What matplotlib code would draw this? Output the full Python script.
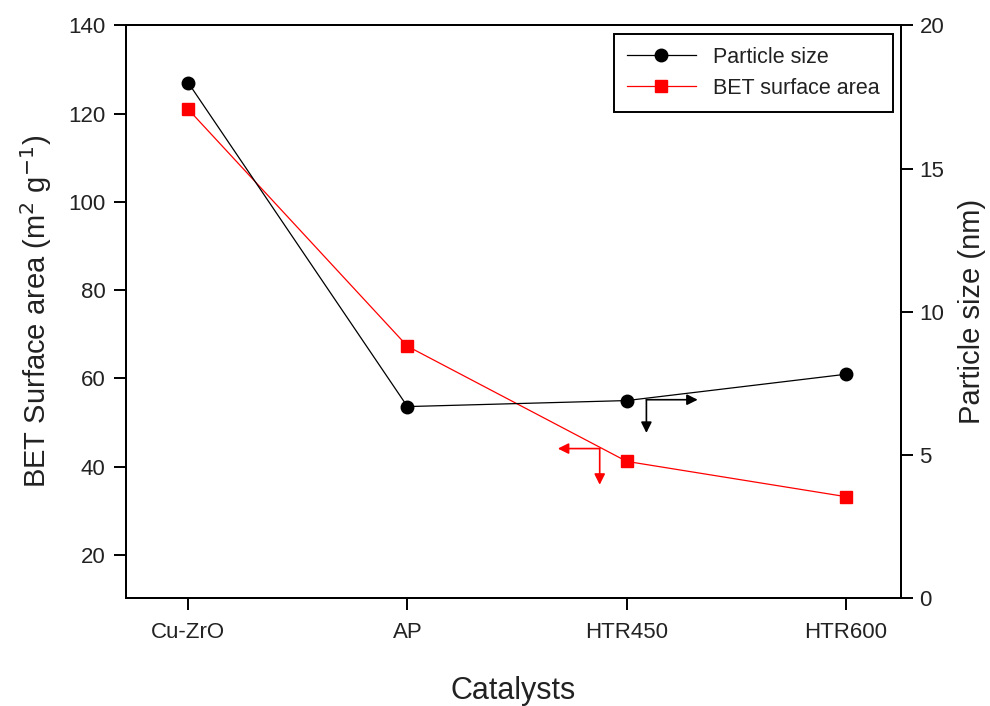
import matplotlib
matplotlib.use("Agg")
import matplotlib.pyplot as plt

plt.rcParams['font.family'] = ['Liberation Sans', 'DejaVu Sans']

catalysts = ["Cu-ZrO", "AP", "HTR450", "HTR600"]
bet_area = [121.0, 67.3, 41.2, 33.2]
particle_size = [18.0, 6.68, 6.89, 7.81]
left_ticks = [20, 40, 60, 80, 100, 120, 140]
right_ticks = [0, 5, 10, 15, 20]

txt = '#222222'
x = list(range(len(catalysts)))

fig = plt.figure(figsize=(9.9, 7.06), dpi=100)
ax = fig.add_axes([0.127, 0.1534, 0.7828, 0.8105])
ax2 = ax.twinx()

l_bet, = ax.plot(x, bet_area, color='red', lw=0.9, marker='s', ms=9,
                 label='BET surface area', zorder=3)
l_ps, = ax2.plot(x, particle_size, color='black', lw=0.9, marker='o', ms=9,
                 label='Particle size', zorder=3)

ax.set_xlim(-0.285, 3.25)
ax.set_ylim(10.3, 140)
ax2.set_ylim(0, 20)

ax.set_xticks(x)
ax.set_xticklabels(catalysts)
ax.set_yticks(left_ticks)
ax2.set_yticks(right_ticks)

for a in (ax, ax2):
    for s in a.spines.values():
        s.set_linewidth(1.4)
    a.tick_params(direction='out', length=8.5, width=1.4, labelsize=16,
                  labelcolor=txt, pad=6)
ax.tick_params(axis='x', pad=9)
ax.tick_params(axis='y', left=True, right=False)
ax2.tick_params(axis='y', right=True, left=False, pad=5)

ax.set_xlabel('Catalysts', fontsize=22, color=txt, labelpad=24)
ax.set_ylabel(r'BET Surface area (m$^2$ g$^{-1}$)', fontsize=21, color=txt, labelpad=10)
ax2.set_ylabel('Particle size (nm)', fontsize=21, color=txt, labelpad=10)

# arrows indicating which axis each series belongs to
akw = dict(lw=1.2, mutation_scale=16, shrinkA=0, shrinkB=0)
ax2.annotate('', xy=(2.09, 5.76), xytext=(2.09, 6.92),
             arrowprops=dict(arrowstyle='-|>', color='black', **akw))
ax2.annotate('', xy=(2.324, 6.92), xytext=(2.09, 6.92),
             arrowprops=dict(arrowstyle='-|>', color='black', **akw))
ax.annotate('', xy=(1.877, 35.9), xytext=(1.877, 44.1),
            arrowprops=dict(arrowstyle='-|>', color='red', **akw))
ax.annotate('', xy=(1.686, 44.1), xytext=(1.877, 44.1),
            arrowprops=dict(arrowstyle='-|>', color='red', **akw))

leg = ax2.legend(handles=[l_ps, l_bet], loc='upper right',
                 bbox_to_anchor=(1 - 8 / 775, 1 - 8.5 / 572), borderaxespad=0,
                 fontsize=15.5, fancybox=False, edgecolor='black',
                 handlelength=3.2, framealpha=1, borderpad=0.6, labelspacing=0.45)
leg.get_frame().set_linewidth(1.4)
for t in leg.get_texts():
    t.set_color(txt)

fig.savefig('out.png', dpi=100)
